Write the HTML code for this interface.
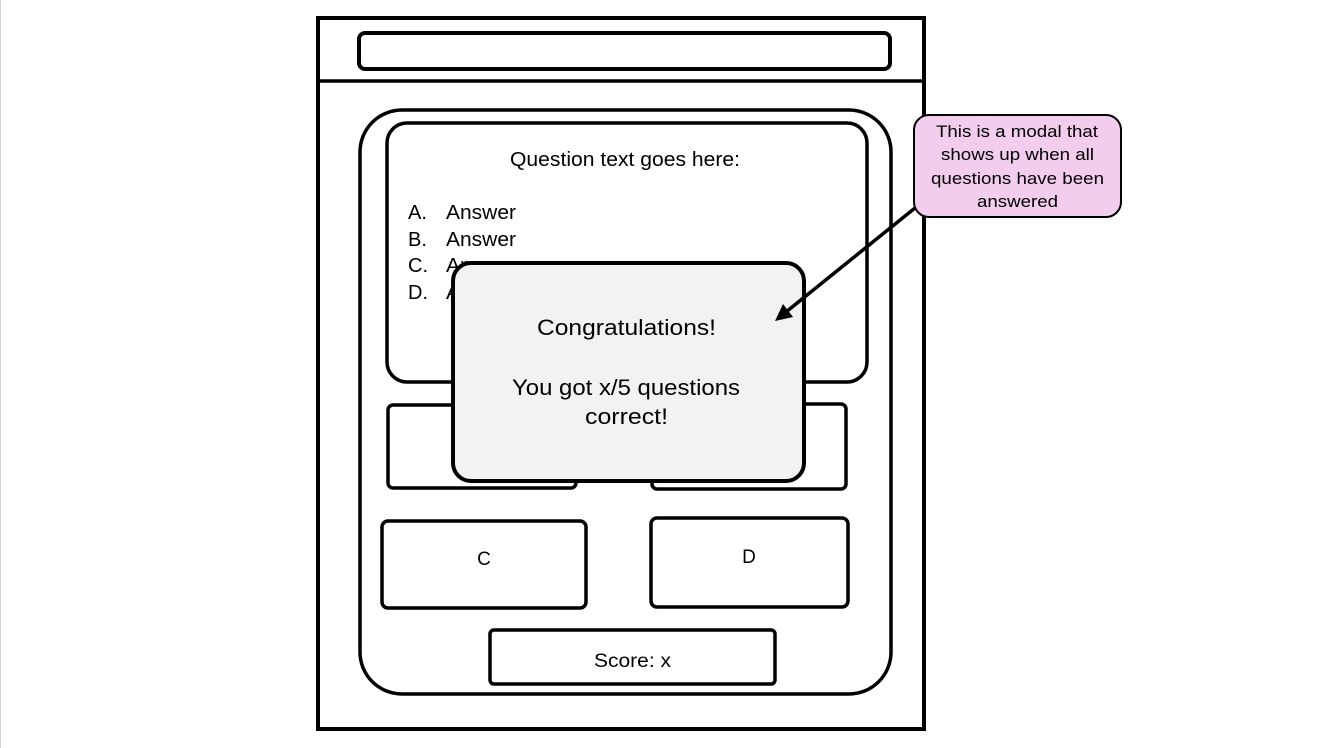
<!DOCTYPE html>
<html><head><style>
html,body{margin:0;padding:0;background:#fff;}
svg{display:block;font-family:"Liberation Sans",sans-serif;}
</style></head><body>
<svg width="1334" height="748" viewBox="0 0 1334 748">
<line x1="0.5" y1="0" x2="0.5" y2="748" stroke="#d0d0d0" stroke-width="1"/>
<rect x="318" y="18" width="606" height="711" fill="#fff" stroke="#000" stroke-width="4"/>
<line x1="318" y1="81" x2="924" y2="81" stroke="#000" stroke-width="3.5"/>
<rect x="359" y="33" width="531" height="36" rx="6" fill="none" stroke="#000" stroke-width="4"/>
<rect x="360" y="110" width="531" height="584" rx="42" fill="none" stroke="#000" stroke-width="3.5"/>
<rect x="387" y="123" width="480" height="259" rx="20" fill="none" stroke="#000" stroke-width="3.5"/>
<text x="510" y="166" font-size="20" textLength="230" lengthAdjust="spacingAndGlyphs">Question text goes here:</text>
<g font-size="20">
<text x="408" y="219">A.</text><text x="446" y="219" textLength="70" lengthAdjust="spacingAndGlyphs">Answer</text>
<text x="408" y="246">B.</text><text x="446" y="246" textLength="70" lengthAdjust="spacingAndGlyphs">Answer</text>
<text x="408" y="272">C.</text><text x="446" y="272" textLength="70" lengthAdjust="spacingAndGlyphs">Answer</text>
<text x="408" y="299">D.</text><text x="446" y="299" textLength="70" lengthAdjust="spacingAndGlyphs">Answer</text>
</g>
<rect x="388" y="405" width="188" height="83" rx="5" fill="#fff" stroke="#000" stroke-width="3.5"/>
<rect x="652" y="404" width="194" height="85" rx="5" fill="#fff" stroke="#000" stroke-width="3.5"/>
<rect x="382" y="521" width="204" height="87" rx="6" fill="#fff" stroke="#000" stroke-width="3.5"/>
<text x="484" y="565" font-size="19" text-anchor="middle">C</text>
<rect x="651" y="518" width="197" height="89" rx="6" fill="#fff" stroke="#000" stroke-width="3.5"/>
<text x="749" y="563" font-size="19" text-anchor="middle">D</text>
<rect x="490" y="630" width="285" height="54" rx="4" fill="#fff" stroke="#000" stroke-width="3.5"/>
<text x="594" y="667" font-size="19" textLength="77" lengthAdjust="spacingAndGlyphs">Score: x</text>
<rect x="453" y="263" width="351" height="218" rx="18" fill="#f2f2f2" stroke="#000" stroke-width="4"/>
<g font-size="22">
<text x="537" y="335" textLength="179" lengthAdjust="spacingAndGlyphs">Congratulations!</text>
<text x="512" y="395" textLength="228" lengthAdjust="spacingAndGlyphs">You got x/5 questions</text>
<text x="585" y="424" textLength="83" lengthAdjust="spacingAndGlyphs">correct!</text>
</g>
<rect x="914" y="115" width="207" height="102" rx="15" fill="#f2cdee" stroke="#000" stroke-width="2"/>
<g font-size="16.5">
<text x="936" y="137" textLength="162" lengthAdjust="spacingAndGlyphs">This is a modal that</text>
<text x="941" y="160" textLength="153" lengthAdjust="spacingAndGlyphs">shows up when all</text>
<text x="931" y="184" textLength="173" lengthAdjust="spacingAndGlyphs">questions have been</text>
<text x="977" y="207" textLength="81" lengthAdjust="spacingAndGlyphs">answered</text>
</g>
<line x1="915" y1="208" x2="786" y2="312" stroke="#000" stroke-width="3.5"/>
<polygon points="775,321 783,304 793,317" fill="#000"/>
</svg>
</body></html>
